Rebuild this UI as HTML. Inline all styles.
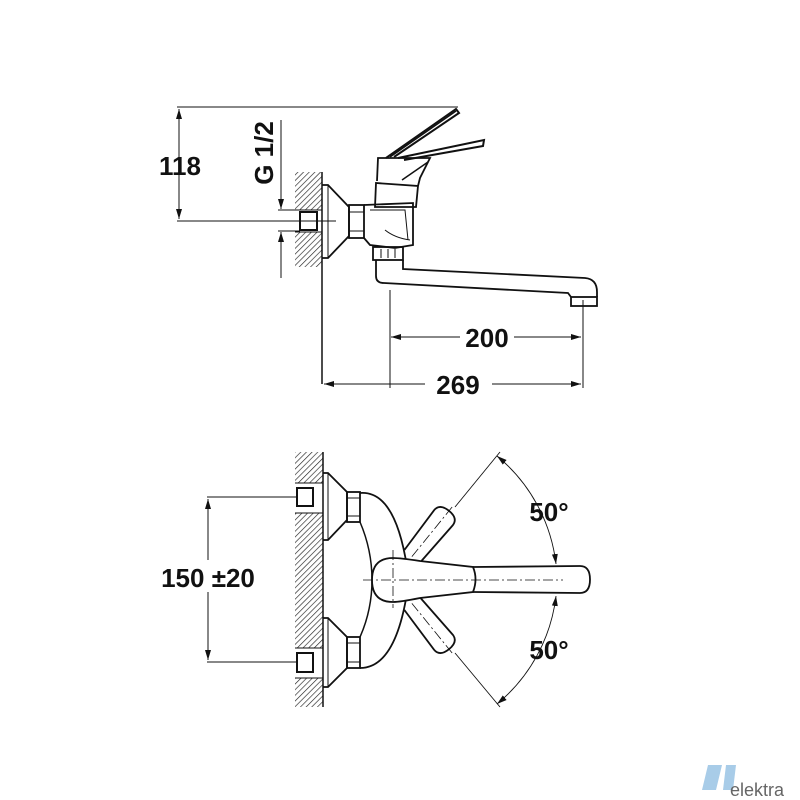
<!DOCTYPE html>
<html><head><meta charset="utf-8"><style>
html,body{margin:0;padding:0;background:#fff}
svg{display:block}
text{font-family:"Liberation Sans",sans-serif;font-weight:bold;fill:#111}
</style></head><body>
<svg width="800" height="800" viewBox="0 0 800 800" xmlns="http://www.w3.org/2000/svg">
<defs>
<pattern id="h" width="4" height="4" patternUnits="userSpaceOnUse" patternTransform="rotate(45)">
<rect width="4" height="4" fill="#fff"/><line x1="0" y1="0" x2="0" y2="4" stroke="#222" stroke-width="1.3"/>
</pattern>
<marker id="a" viewBox="0 0 10 10" refX="10" refY="5" markerWidth="10" markerHeight="10" orient="auto-start-reverse" markerUnits="userSpaceOnUse">
<path d="M0,2 L10,5 L0,8 z" fill="#111"/></marker>
</defs>
<g stroke="#111" fill="none" stroke-width="1">
<!-- TOP VIEW -->
<line x1="177" y1="107" x2="458" y2="107"/>
<line x1="179" y1="109" x2="179" y2="219" marker-start="url(#a)" marker-end="url(#a)"/>
<line x1="177" y1="221" x2="336" y2="221"/>
<line x1="281" y1="120" x2="281" y2="209" marker-end="url(#a)"/>
<line x1="281" y1="232" x2="281" y2="278" marker-start="url(#a)"/>
<line x1="278" y1="210" x2="300" y2="210"/>
<line x1="278" y1="231" x2="300" y2="231"/>
<rect x="295" y="172" width="27" height="38" fill="url(#h)" stroke="none"/>
<rect x="295" y="232" width="27" height="35" fill="url(#h)" stroke="none"/>
<line x1="295" y1="210" x2="322" y2="210"/><line x1="295" y1="232" x2="322" y2="232"/>
<rect x="300" y="212" width="17" height="18" stroke-width="2"/>
<line x1="322" y1="172" x2="322" y2="384" stroke-width="1.5"/>
<path d="M322,185 L328,185 L349,207 L349,236 L328,258 L322,258" stroke-width="1.8"/>
<line x1="328" y1="185" x2="328" y2="258"/>
<rect x="349" y="205" width="15" height="33" stroke-width="1.8"/>
<line x1="349" y1="212" x2="364" y2="212"/><line x1="349" y1="231" x2="364" y2="231"/>
<path d="M364,205 L413,203 L413,245 L395,248 L370,245 L364,238" stroke-width="1.8"/>
<path d="M370,210 L405,210 L408,240 M385,230 Q395,238 410,240" />
<path d="M375,207 L376,183 L418,186 L416,207 Z" stroke-width="1.8"/>
<path d="M377,181 L378,158 L430,158 L420,178 L418,186" stroke-width="1.8"/>
<path d="M386,158 L456,109 L459,113 L394,157" stroke-width="2"/>
<path d="M390,157 L456,111" stroke-width="1.5"/>
<path d="M398,158 L484,140 L483,146 L404,160" stroke-width="2"/>
<path d="M402,180 L428,162" stroke-width="1.5"/>
<rect x="373" y="247" width="30" height="13" stroke-width="1.8"/>
<line x1="381" y1="249" x2="381" y2="258"/><line x1="388" y1="249" x2="388" y2="258"/><line x1="395" y1="249" x2="395" y2="258"/>
<path d="M376,260 L376,276 Q376,283 384,283 L568,293 L571,297 M403,260 L403,269 L585,278 Q597,279 597,292 L597,297" stroke-width="1.8"/>
<rect x="571" y="297" width="26" height="9" stroke-width="1.8"/>
<line x1="390" y1="290" x2="390" y2="388"/>
<line x1="583" y1="300" x2="583" y2="388"/>
<line x1="391" y1="337" x2="460" y2="337" marker-start="url(#a)"/>
<line x1="514" y1="337" x2="581" y2="337" marker-end="url(#a)"/>
<line x1="324" y1="384" x2="425" y2="384" marker-start="url(#a)"/>
<line x1="492" y1="384" x2="581" y2="384" marker-end="url(#a)"/>
<!-- BOTTOM VIEW -->
<rect x="295" y="452" width="28" height="31" fill="url(#h)" stroke="none"/>
<rect x="295" y="513" width="28" height="135" fill="url(#h)" stroke="none"/>
<rect x="295" y="678" width="28" height="29" fill="url(#h)" stroke="none"/>
<line x1="295" y1="483" x2="323" y2="483"/><line x1="295" y1="513" x2="323" y2="513"/>
<line x1="295" y1="648" x2="323" y2="648"/><line x1="295" y1="678" x2="323" y2="678"/>
<line x1="323" y1="452" x2="323" y2="707" stroke-width="1.5"/>
<rect x="297" y="488" width="16" height="18" stroke-width="2"/>
<rect x="297" y="653" width="16" height="19" stroke-width="2"/>
<path d="M323,473 L328,473 L347,492 L347,520 L328,540 L323,540" stroke-width="1.8"/>
<line x1="328" y1="473" x2="328" y2="540"/>
<path d="M323,618 L328,618 L347,637 L347,668 L328,687 L323,687" stroke-width="1.8"/>
<line x1="328" y1="618" x2="328" y2="687"/>
<rect x="347" y="492" width="13" height="30" stroke-width="1.8"/>
<line x1="347" y1="498" x2="360" y2="498"/><line x1="347" y1="516" x2="360" y2="516"/>
<rect x="347" y="637" width="13" height="31" stroke-width="1.8"/>
<line x1="347" y1="643" x2="360" y2="643"/><line x1="347" y1="662" x2="360" y2="662"/>
<path d="M360,493 Q395,490 407,567 M407,593 Q395,668 360,668" stroke-width="1.8"/>
<path d="M360,522 Q372,550 372,580 Q372,610 360,637" stroke-width="1.5"/>
<g transform="translate(393,580) rotate(-51)" stroke-width="1.8" fill="#fff">
<path d="M30,-10 L80,-12 Q89,-12 89,0 Q89,12 80,12 L30,10"/>
<line x1="30" y1="0" x2="95" y2="0" stroke-dasharray="10,3,2,3" stroke-width="0.8"/>
</g>
<g transform="translate(393,580) rotate(51)" stroke-width="1.8" fill="#fff">
<path d="M30,-10 L80,-12 Q89,-12 89,0 Q89,12 80,12 L30,10"/>
<line x1="30" y1="0" x2="95" y2="0" stroke-dasharray="10,3,2,3" stroke-width="0.8"/>
</g>
<path d="M473,567 L580,566 Q590,566 590,579.5 Q590,593 580,593 L473,592" stroke-width="1.8" fill="#fff"/>
<path d="M393,558 Q400,558 420,561 L473,567 Q478,579 473,592 L420,598 Q400,602 393,602 Q372,602 372,580 Q372,558 393,558 Z" stroke-width="1.8" fill="#fff"/>
<line x1="363" y1="580" x2="563" y2="580" stroke-dasharray="10,3,2,3" stroke-width="0.8"/>
<line x1="393" y1="550" x2="393" y2="608" stroke-dasharray="10,3,2,3" stroke-width="0.8"/>
<line x1="455" y1="507" x2="500" y2="452" stroke-width="0.9"/>
<line x1="455" y1="653" x2="500" y2="707" stroke-width="0.9"/>
<path d="M497,456 A165,165 0 0 1 556,564" stroke-width="0.9" marker-start="url(#a)" marker-end="url(#a)"/>
<path d="M556,596 A165,165 0 0 1 497,704" stroke-width="0.9" marker-start="url(#a)" marker-end="url(#a)"/>
<line x1="207" y1="497" x2="297" y2="497"/>
<line x1="207" y1="662" x2="297" y2="662"/>
<line x1="208" y1="499" x2="208" y2="560" marker-start="url(#a)"/>
<line x1="208" y1="592" x2="208" y2="660" marker-end="url(#a)"/>
</g>
<g font-size="26">
<text x="180" y="175" text-anchor="middle">118</text>
<text x="0" y="0" transform="translate(273,153) rotate(-90)" text-anchor="middle">G 1/2</text>
<text x="487" y="347" text-anchor="middle">200</text>
<text x="458" y="394" text-anchor="middle">269</text>
<text x="208" y="587" text-anchor="middle">150 ±20</text>
<text x="549" y="521" text-anchor="middle">50°</text>
<text x="549" y="659" text-anchor="middle">50°</text>
</g>
<path d="M708,765 L722,765 L716,790 L702,790 Z M726,765 L736,765 L733,790 L723,790 Z" fill="#a8cce8"/>
<text x="730" y="796" font-size="18" style="fill:#666;font-weight:normal">elektra</text>
</svg>
</body></html>
